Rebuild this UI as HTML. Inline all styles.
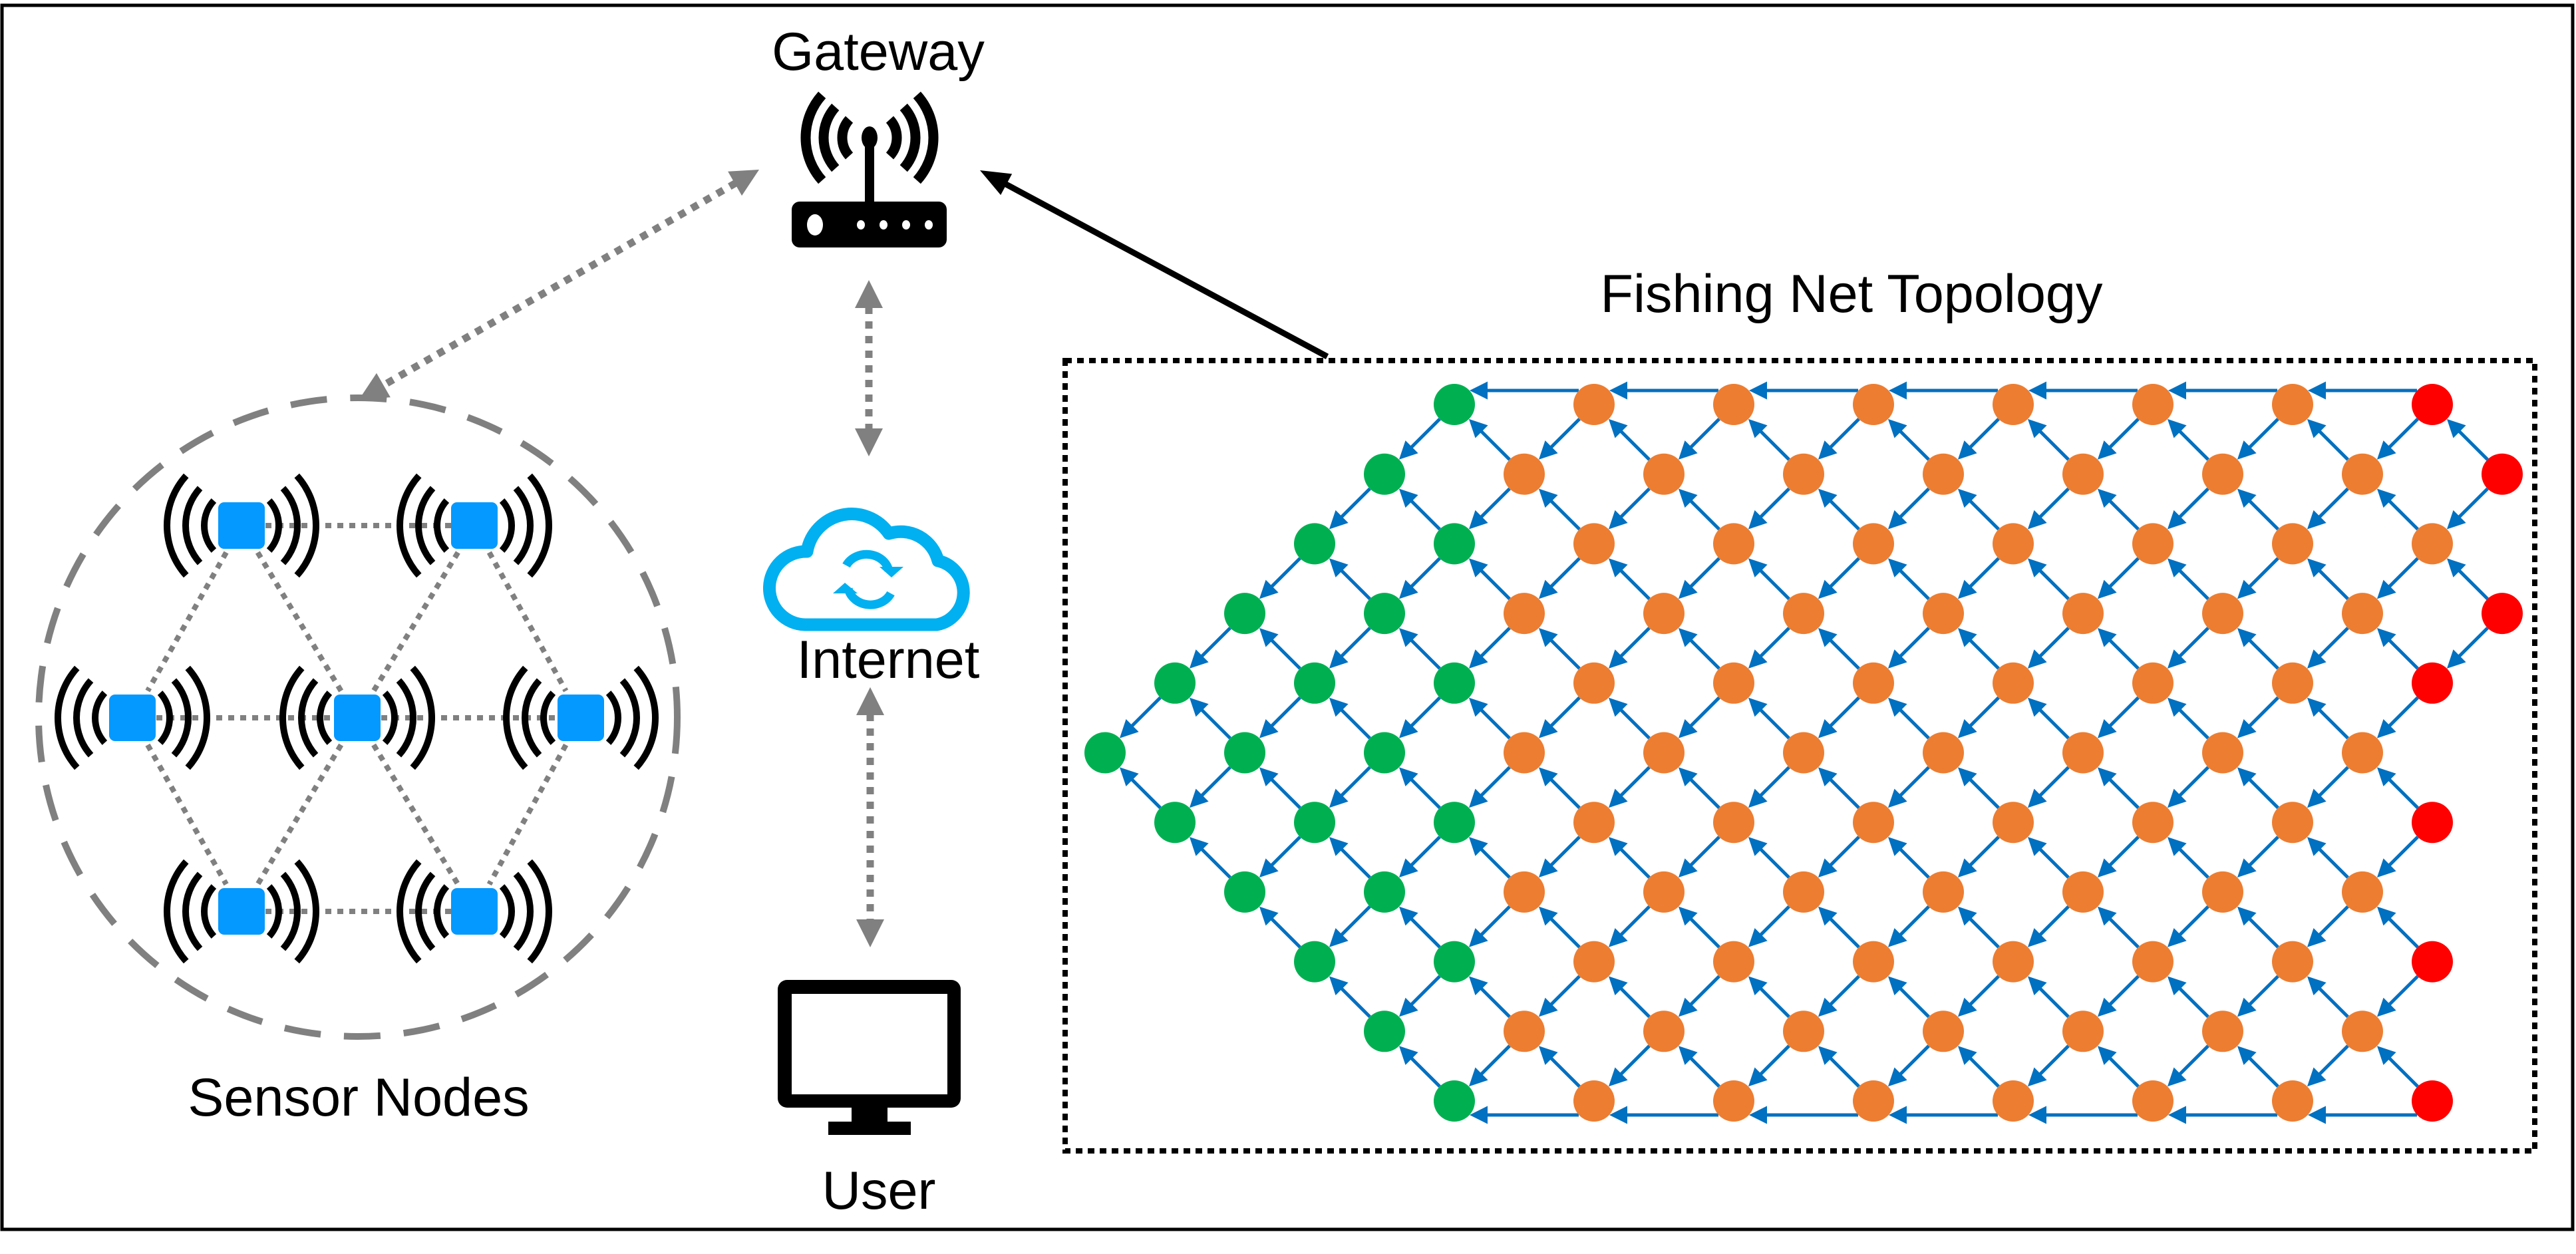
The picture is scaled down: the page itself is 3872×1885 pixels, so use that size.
<!DOCTYPE html>
<html><head><meta charset="utf-8"><style>
html,body{margin:0;padding:0;background:#fff;}
svg{display:block;}
text{font-family:"Liberation Sans",Arial,sans-serif;font-size:81px;fill:#000;}
</style></head><body>
<svg id="s" width="3872" height="1885" viewBox="0 0 3872 1885" xmlns="http://www.w3.org/2000/svg">
<rect x="0" y="0" width="3872" height="1885" fill="#fff"/>
<rect x="3" y="8" width="3864" height="1840" fill="none" stroke="#000" stroke-width="5"/>
<text x="1320" y="105" text-anchor="middle">Gateway</text>
<text x="1335" y="1019" text-anchor="middle">Internet</text>
<text x="1321" y="1817" text-anchor="middle">User</text>
<text x="539" y="1677" text-anchor="middle">Sensor Nodes</text>
<text x="2783" y="469" text-anchor="middle">Fishing Net Topology</text>
<!-- router -->
<rect x="1190" y="303" width="233" height="69" rx="12" fill="#000"/>
<ellipse cx="1225" cy="338" rx="12" ry="16" fill="#fff"/>
<ellipse cx="1294" cy="338" rx="6" ry="7" fill="#fff"/>
<ellipse cx="1328" cy="338" rx="6" ry="7" fill="#fff"/>
<ellipse cx="1362" cy="338" rx="6" ry="7" fill="#fff"/>
<ellipse cx="1396" cy="338" rx="6" ry="7" fill="#fff"/>
<rect x="1300" y="207" width="14" height="96" fill="#000"/>
<ellipse cx="1307" cy="207" rx="12" ry="17" fill="#000"/>
<g id="garcs" fill="none" stroke="#000" stroke-width="15"></g>
<!-- monitor -->
<rect x="1169" y="1473" width="275" height="192" rx="14" fill="#000"/>
<rect x="1190" y="1494" width="234" height="151" fill="#fff"/>
<rect x="1280" y="1663" width="54" height="25" fill="#000"/>
<rect x="1245" y="1686" width="124" height="20" fill="#000"/>
<!-- cloud -->
<path d="M1210,939 H1408 A49,49 0 0 0 1410,843 A58,58 0 0 0 1336,802 A68,68 0 0 0 1213,829 A55,55 0 0 0 1210,939 Z" fill="none" stroke="#00B0F0" stroke-width="19" stroke-linejoin="round"/>
<path d="M1272,850 A34,30 0 0 1 1336,858" fill="none" stroke="#00B0F0" stroke-width="13"/>
<polygon points="1322,852 1358,852 1340,868" fill="#00B0F0"/>
<path d="M1339,892 A34,30 0 0 1 1275,885" fill="none" stroke="#00B0F0" stroke-width="13"/>
<polygon points="1252,892 1289,892 1270,876" fill="#00B0F0"/>
<!-- dotted box -->
<rect x="1601" y="542" width="2209" height="1188" fill="none" stroke="#000" stroke-width="8" stroke-dasharray="10 8"/>
<!-- sensor circle -->
<ellipse cx="538" cy="1078" rx="480" ry="480" fill="none" stroke="#808080" stroke-width="10" stroke-dasharray="55 35"/>
<g id="dyn"></g>
</svg>
<script>
(function(){
var NS="http://www.w3.org/2000/svg";
var dyn=document.getElementById('dyn');
function el(tag,attrs,parent){var e=document.createElementNS(NS,tag);for(var k in attrs)e.setAttribute(k,attrs[k]);(parent||dyn).appendChild(e);return e;}
function head(tx,ty,ux,uy,len,w,col){
 var bx=tx-ux*len,by=ty-uy*len,px=-uy,py=ux;
 el('polygon',{points:tx+','+ty+' '+(bx+px*w/2)+','+(by+py*w/2)+' '+(bx-px*w/2)+','+(by-py*w/2),fill:col});
}
function arrow(x1,y1,x2,y2,opts){
 var dx=x2-x1,dy=y2-y1,L=Math.hypot(dx,dy),ux=dx/L,uy=dy/L;
 var hl=opts.hl,hw=opts.hw,col=opts.col;
 var sx=x1,sy=y1;
 if(opts.both){sx=x1+ux*(hl-2);sy=y1+uy*(hl-2);head(x1,y1,-ux,-uy,hl,hw,col);}
 var ex=x2-ux*(hl-2),ey=y2-uy*(hl-2);
 var a={x1:sx,y1:sy,x2:ex,y2:ey,stroke:col,'stroke-width':opts.sw};
 if(opts.dash)a['stroke-dasharray']=opts.dash;
 el('line',a);
 head(x2,y2,ux,uy,hl,hw,col);
}
var g=document.getElementById('garcs');
function arcPath(cx,cy,r,a0,a1){var p0=[cx+r*Math.cos(a0),cy+r*Math.sin(a0)],p1=[cx+r*Math.cos(a1),cy+r*Math.sin(a1)];return 'M'+p0[0]+','+p0[1]+' A'+r+','+r+' 0 0 1 '+p1[0]+','+p1[1];}
var D=Math.PI/180;
[41,69,96].forEach(function(r){
 el('path',{d:arcPath(1307,207,r,-42*D,42*D)},g);
 el('path',{d:arcPath(1307,207,r,138*D,222*D)},g);
});
var gray={hl:42,hw:42,col:'#808080',sw:11,dash:'11 11',both:true};
arrow(1306,421,1306,686,gray);
arrow(1308,1033,1308,1424,gray);
arrow(1141,255,540,600,gray);
arrow(1995,536,1473,256,{hl:45,hw:36,col:'#000',sw:9});
var N={T1:[363,790],T2:[713,790],M1:[199,1079],M2:[537,1079],M3:[873,1079],B1:[363,1370],B2:[713,1370]};
var E=[['T1','T2'],['M1','M2'],['M2','M3'],['B1','B2'],['T1','M1'],['T1','M2'],['T2','M2'],['T2','M3'],['M1','B1'],['M2','B1'],['M2','B2'],['M3','B2']];
E.forEach(function(e){var a=N[e[0]],b=N[e[1]];var t0=0.14,t1=0.86;
 if(a[1]==b[1]){t0=0;t1=1;}
 el('line',{x1:a[0]+(b[0]-a[0])*t0,y1:a[1]+(b[1]-a[1])*t0,x2:a[0]+(b[0]-a[0])*t1,y2:a[1]+(b[1]-a[1])*t1,stroke:'#808080','stroke-width':8,'stroke-dasharray':'9 9'});});
for(var k in N){var c=N[k];
 [56,84,112].forEach(function(r){
  el('path',{d:arcPath(c[0],c[1],r,-42*D,42*D),fill:'none',stroke:'#000','stroke-width':10});
  el('path',{d:arcPath(c[0],c[1],r,138*D,222*D),fill:'none',stroke:'#000','stroke-width':10});
 });
 el('rect',{x:c[0]-35,y:c[1]-35,width:70,height:70,rx:9,fill:'#0499FF'});
}
var X0=1661,DX=105,Y0=608,DY=104.7,R=31;
var maxJ=[19,20,19,20,19,18,19,18,19,18,19];
var reds={'0,19':1,'1,20':1,'3,20':1,'4,19':1,'6,19':1,'8,19':1,'10,19':1};
function ex(i,j){return i>=0&&i<=10&&((i+j)%2==1)&&j>=Math.abs(i-5)&&j<=maxJ[i];}
function P(i,j){return [X0+DX*j,Y0+DY*i];}
var blue={hl:27,hw:27,col:'#0070C0',sw:5};
for(var i=0;i<=10;i++)for(var j=0;j<=20;j++){if(!ex(i,j))continue;var s=P(i,j);
 [[i-1,j-1],[i+1,j-1]].forEach(function(t){if(!ex(t[0],t[1]))return;var q=P(t[0],t[1]);
  var dx=q[0]-s[0],dy=q[1]-s[1],L=Math.hypot(dx,dy),ux=dx/L,uy=dy/L;
  arrow(s[0]+ux*R,s[1]+uy*R,q[0]-ux*R,q[1]-uy*R,blue);});
 if((i==0||i==10)&&ex(i,j-2)){var q=P(i,j-2);var off=(i==0?-21:21);
  arrow(s[0]-23,s[1]+off,q[0]+23,q[1]+off,blue);}
}
for(var i=0;i<=10;i++)for(var j=0;j<=20;j++){if(!ex(i,j))continue;var s=P(i,j);
 var col=j<=5?'#00B050':(reds[i+','+j]?'#FF0000':'#ED7D31');
 el('circle',{cx:s[0],cy:s[1],r:R,fill:col});}
})();
</script>
</body></html>
